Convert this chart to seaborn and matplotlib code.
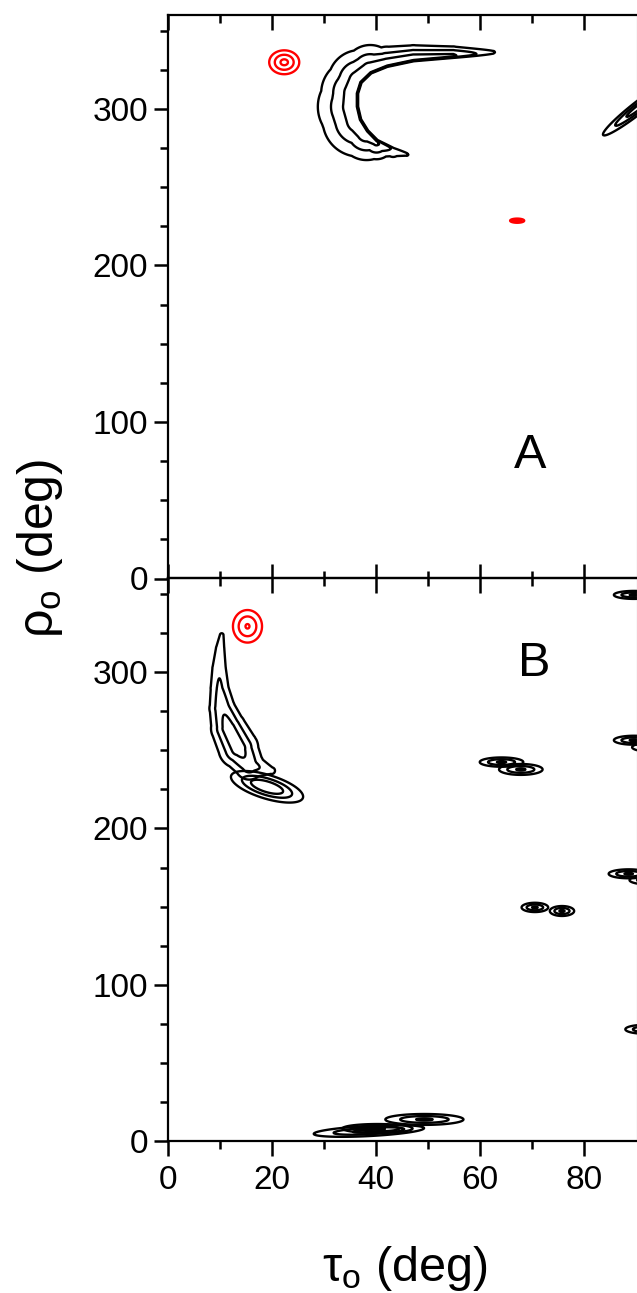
import numpy as np
import matplotlib
matplotlib.use("Agg")
import matplotlib.pyplot as plt
from matplotlib.ticker import FixedLocator, MultipleLocator
import seaborn as sns

# ------------------------------------------------------------------ data
contour_levels = [0.25, 0.55, 0.85]

# Panel A : crescent-shaped ridge (black), traced along its sharp concave edge
a_ridge_tau = [62.5, 54.8, 47.2, 42.1, 38.9, 36.9, 36.2, 36.2, 36.8, 38.2, 40.1, 43.3, 45.9]
a_ridge_rho = [335.9, 333.8, 331.7, 328.1, 323.8, 317.4, 310.0, 301.4, 292.9, 285.4, 279.1, 274.2, 271.2]
a_ridge_amp = [0.30, 0.90, 1.0, 1.0, 1.0, 1.0, 1.0, 1.0, 1.0, 1.0, 0.90, 0.50, 0.30]
a_ridge_spread_in = [1.5, 1.2, 1.2, 1.2, 1.2, 1.2, 1.2, 1.2, 1.2, 1.2, 1.2, 1.2, 1.5]
a_ridge_spread_out = [3, 6, 8.5, 11, 16, 19, 21, 23, 22, 17, 11, 6.5, 3]

# Panel A : single peaks
a_peak_tau = [22.4, 67.1, 90.4]
a_peak_rho = [329.8, 228.6, 301.0]
a_peak_spread_u = [9.3, 4.4, 27.0]
a_peak_spread_v = [7.4, 1.3, 3.6]
a_peak_tilt = [0, 0, 38]
a_peak_amp = [0.92, 0.90, 1.0]
a_peak_color = ["#ff0000", "#ff0000", "black"]

# Panel B : crescent-shaped ridge (black)
b_ridge_tau = [10.4, 10.1, 9.9, 10.0, 10.5, 11.7, 13.6, 15.7, 20.0]
b_ridge_rho = [323.8, 315.3, 302.5, 289.7, 276.9, 264.1, 251.3, 240.6, 237.0]
b_ridge_amp = [0.30, 0.40, 0.50, 0.60, 0.78, 1.0, 1.0, 0.72, 0.35]
b_ridge_spread_in = [3, 4.3, 5.7, 6.8, 8.5, 10.5, 12, 10, 4]
b_ridge_spread_out = [3, 4.3, 5.7, 6.8, 8.5, 10.5, 12, 10, 4]

# Panel B : single peaks
b_peak_tau = [15.35, 19.1, 64.1, 67.8, 89.5, 89.5, 93.0, 88.5, 92.5,
              70.5, 75.7, 91.7, 38.65, 40.3, 49.3]
b_peak_rho = [329.4, 226.7, 242.5, 237.8, 349.5, 256.5, 252.0, 171.0, 167.0,
              149.5, 147.2, 71.5, 6.4, 8.0, 13.8]
b_peak_spread_u = [9.2, 21.5, 13.6, 13.6, 12.5, 12.5, 12.5, 12.5, 12.5,
                   8.3, 7.6, 12.5, 33.8, 21.9, 24.4]
b_peak_spread_v = [10.3, 6.8, 2.9, 3.4, 2.5, 2.8, 2.8, 2.8, 2.8,
                   2.9, 3.1, 2.8, 3.1, 2.8, 3.4]
b_peak_tilt = [0, -17, 0, 0, 0, 0, 0, 0, 0, 0, 0, 0, 3, 0, 0]
b_peak_amp = [0.87, 1.15, 0.9, 0.9, 0.9, 0.9, 0.9, 0.9, 0.9, 0.9, 0.9, 0.9, 0.95, 0.9, 0.9]
b_peak_color = ["#ff0000"] + ["black"] * 14

x_major = [0, 20, 40, 60, 80]
x_minor = [10, 30, 50, 70]
y_major = [0, 100, 200, 300]

# ------------------------------------------------------------------ style
sns.set_theme(style="ticks")
plt.rcParams["font.family"] = ["Liberation Sans", "DejaVu Sans"]
plt.rcParams["mathtext.fontset"] = "custom"
plt.rcParams["mathtext.rm"] = "Liberation Sans"
plt.rcParams["mathtext.it"] = "Liberation Sans:italic"

W, H = 637, 1293
fig = plt.figure(figsize=(W / 100, H / 100), dpi=100)
fig.patch.set_facecolor("white")

left_px, right_px = 167.5, 636.5
topA, midY, botB = 15.0, 578.5, 1141.0
axA = fig.add_axes([left_px / W, 1 - midY / H, (right_px - left_px) / W, (midY - topA) / H])
axB = fig.add_axes([left_px / W, 1 - botB / H, (right_px - left_px) / W, (botB - midY) / H])

XMAX, YMAX = 90, 360
for ax in (axA, axB):
    ax.set_facecolor("white")
    ax.set_xlim(0, XMAX)
    ax.set_ylim(0, YMAX)
    ax.grid(False)

# grid for the density fields
tau_g = np.arange(-3, 100, 0.04)
rho_g = np.arange(-10, 372, 0.15)
LW = 1.7


def local_grid(tmin, tmax, rmin, rmax):
    it = (tau_g >= tmin) & (tau_g <= tmax)
    ir = (rho_g >= rmin) & (rho_g <= rmax)
    return np.meshgrid(tau_g[it], rho_g[ir])


def scales(ax):
    return ax.bbox.width / XMAX, ax.bbox.height / YMAX


def draw_peaks(ax, tau, rho, su, sv, tilt, amp, color):
    sx, sy = scales(ax)
    for t0, r0, u, v, ang, a, c in zip(tau, rho, su, sv, tilt, amp, color):
        R = 5.0 * max(u, v)
        T, P = local_grid(t0 - R / sx, t0 + R / sx, r0 - R / sy, r0 + R / sy)
        dx = (T - t0) * sx
        dy = (P - r0) * sy
        th = np.deg2rad(ang)
        uu = dx * np.cos(th) + dy * np.sin(th)
        vv = -dx * np.sin(th) + dy * np.cos(th)
        F = a * np.exp(-0.5 * ((uu / u) ** 2 + (vv / v) ** 2))
        ax.contour(T, P, F, levels=contour_levels, colors=[c], linewidths=LW)


def draw_ridge(ax, tau, rho, amp, w_in, w_out, color="black"):
    sx, sy = scales(ax)
    m = 5.0 * max(max(w_in), max(w_out))
    T, P = local_grid(min(tau) - m / sx, max(tau) + m / sx,
                      min(rho) - m / sy, max(rho) + m / sy)
    PX, PY = T * sx, P * sy
    vx = np.array(tau) * sx
    vy = np.array(rho) * sy
    F = np.zeros_like(PX)
    for i in range(len(vx) - 1):
        x0, y0 = vx[i], vy[i]
        dx, dy = vx[i + 1] - x0, vy[i + 1] - y0
        L2 = dx * dx + dy * dy
        rx, ry = PX - x0, PY - y0
        t = np.clip((rx * dx + ry * dy) / L2, 0, 1)
        d2 = (rx - t * dx) ** 2 + (ry - t * dy) ** 2
        side = dx * ry - dy * rx
        a = amp[i] + t * (amp[i + 1] - amp[i])
        wl = w_in[i] + t * (w_in[i + 1] - w_in[i])
        wr = w_out[i] + t * (w_out[i + 1] - w_out[i])
        w = np.where(side > 0, wl, wr)
        F = np.maximum(F, a * np.exp(-0.5 * d2 / w ** 2))
    ax.contour(T, P, F, levels=contour_levels, colors=[color], linewidths=LW)


draw_ridge(axA, a_ridge_tau, a_ridge_rho, a_ridge_amp, a_ridge_spread_in, a_ridge_spread_out)
draw_peaks(axA, a_peak_tau, a_peak_rho, a_peak_spread_u, a_peak_spread_v,
           a_peak_tilt, a_peak_amp, a_peak_color)
draw_ridge(axB, b_ridge_tau, b_ridge_rho, b_ridge_amp, b_ridge_spread_in, b_ridge_spread_out)
draw_peaks(axB, b_peak_tau, b_peak_rho, b_peak_spread_u, b_peak_spread_v,
           b_peak_tilt, b_peak_amp, b_peak_color)

# ------------------------------------------------------------------ axes cosmetics
TICK_FS = 24
for ax in (axA, axB):
    for s in ("left", "top", "bottom"):
        ax.spines[s].set_color("black")
        ax.spines[s].set_linewidth(1.6)
    ax.spines["right"].set_color("#8c8c8c")
    ax.spines["right"].set_linewidth(0.8)
    ax.xaxis.set_major_locator(FixedLocator(x_major))
    ax.xaxis.set_minor_locator(FixedLocator(x_minor))
    ax.yaxis.set_major_locator(FixedLocator(y_major))
    ax.yaxis.set_minor_locator(MultipleLocator(25))
    ax.tick_params(axis="y", which="both", direction="out", left=True, right=False,
                   color="black", width=1.8, labelsize=TICK_FS, pad=4, labelcolor="black")
    ax.tick_params(axis="y", which="major", length=10)
    ax.tick_params(axis="y", which="minor", length=5.5)
    ax.set_yticklabels([str(v) for v in y_major])

axA.tick_params(axis="x", which="both", direction="in", top=True, bottom=True,
                labelbottom=False, labeltop=False, color="black", width=1.8)
axA.tick_params(axis="x", which="major", length=10.5)
axA.tick_params(axis="x", which="minor", length=6)

axB.tick_params(axis="x", which="both", direction="out", top=False, bottom=True,
                labelbottom=True, color="black", width=1.8, labelsize=TICK_FS, pad=7,
                labelcolor="black")
axB.tick_params(axis="x", which="major", length=10.5)
axB.tick_params(axis="x", which="minor", length=6)
axB.set_xticklabels([str(v) for v in x_major])

secB = axB.secondary_xaxis("top")
secB.xaxis.set_major_locator(FixedLocator(x_major))
secB.xaxis.set_minor_locator(FixedLocator(x_minor))
secB.tick_params(axis="x", which="both", direction="in", labeltop=False,
                 color="black", width=1.8)
secB.tick_params(axis="x", which="major", length=10.5)
secB.tick_params(axis="x", which="minor", length=6)
secB.spines["top"].set_linewidth(1.6)
secB.spines["top"].set_color("black")

axA.text(69.55, 70.5, "A", fontsize=35, ha="center", va="baseline", color="black")
axB.text(70.4, 297.5, "B", fontsize=35, ha="center", va="baseline", color="black")

fig.text(405 / W, 1 - 1281 / H, r"τ$_\mathregular{o}$ (deg)", fontsize=35,
         ha="center", va="baseline", color="black")
fig.text(40 / W, 1 - 548 / H, r"ρ$_\mathregular{o}$ (deg)", fontsize=36,
         ha="center", va="center", rotation=90, color="black")

fig.savefig("out.png", dpi=100, facecolor="white")
